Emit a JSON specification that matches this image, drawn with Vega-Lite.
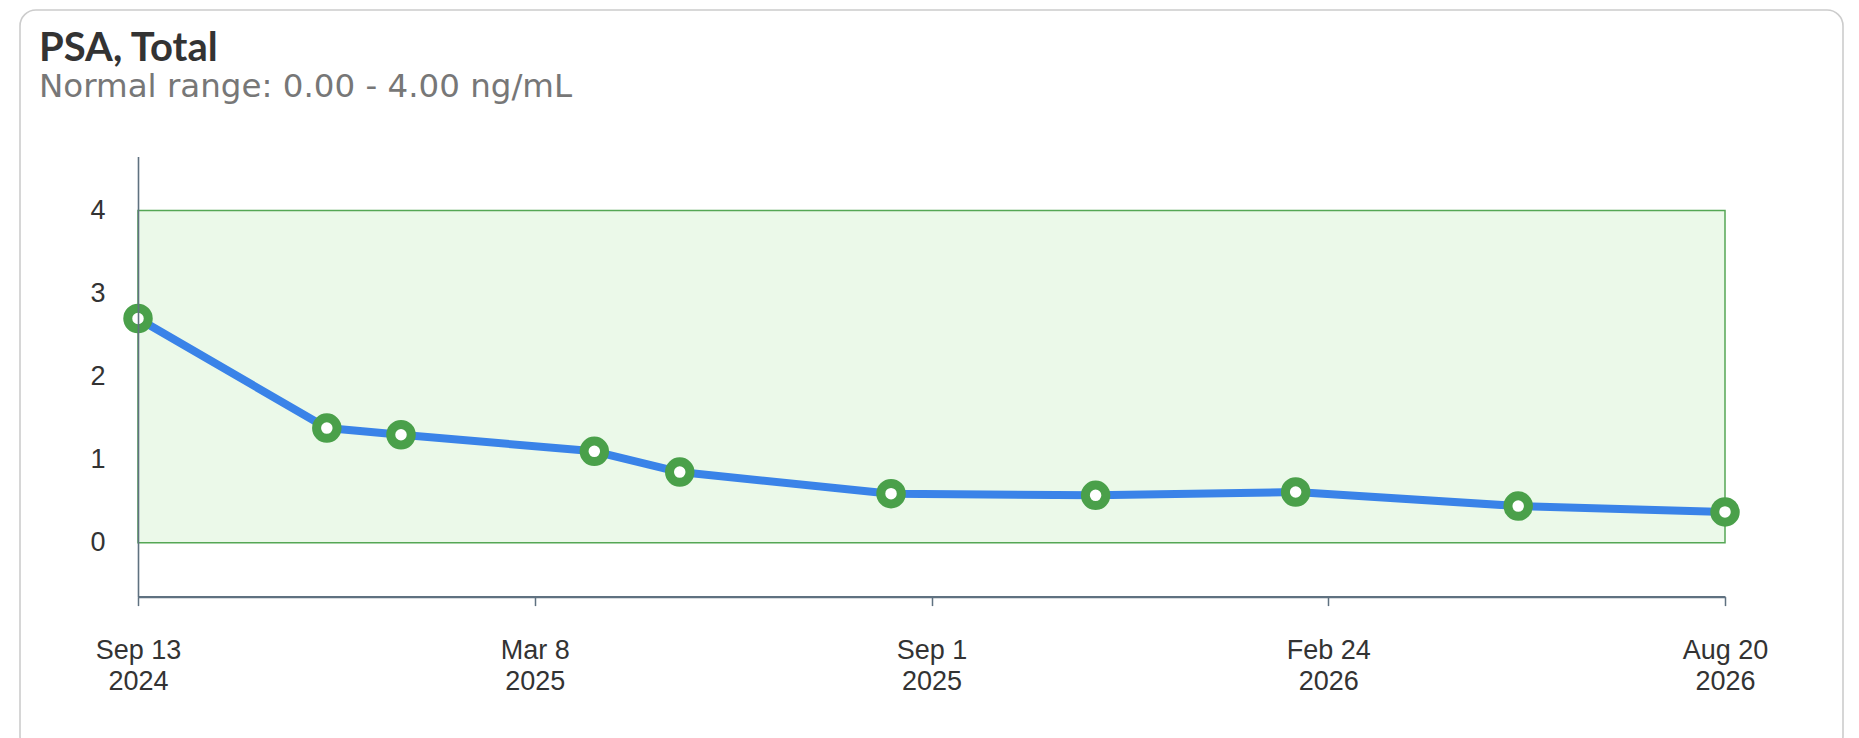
{
  "$schema": "https://vega.github.io/schema/vega-lite/v6.json",
  "description": "PSA, Total - lab result trend with normal range band",
  "autosize": "none",
  "padding": {"left": 20, "top": 10, "right": 16, "bottom": -14},
  "width": 1823,
  "height": 742,
  "background": "white",
  "title": {
    "text": "PSA, Total",
    "subtitle": "Normal range: 0.00 - 4.00 ng/mL",
    "anchor": "start",
    "frame": "group",
    "orient": "top",
    "offset": -93.5,
    "dx": 19,
    "font": "Lato",
    "fontSize": 40,
    "fontWeight": "bold",
    "color": "#333333",
    "subtitleFont": "DejaVu Sans",
    "subtitleFontSize": 32.5,
    "subtitleColor": "#777777",
    "subtitlePadding": 2
  },
  "datasets": {
    "results": [
      {"date": "2024-09-13", "psa": 2.7},
      {"date": "2024-12-06", "psa": 1.38},
      {"date": "2025-01-08", "psa": 1.3},
      {"date": "2025-04-04", "psa": 1.1},
      {"date": "2025-05-12", "psa": 0.85},
      {"date": "2025-08-14", "psa": 0.59},
      {"date": "2025-11-13", "psa": 0.57},
      {"date": "2026-02-10", "psa": 0.61},
      {"date": "2026-05-20", "psa": 0.44},
      {"date": "2026-08-20", "psa": 0.37}
    ],
    "normal": [
      {"date": "2024-09-13", "to": "2026-08-20", "psa": 0, "high": 4}
    ]
  },
  "layer": [
    {
      "data": {"name": "normal"},
      "mark": {"type": "rect", "fill": "#ebf9e9", "stroke": "#55a755", "strokeWidth": 1.5},
      "encoding": {
        "x": {
          "field": "date",
          "type": "temporal",
          "scale": {
            "type": "utc",
            "domain": [
              {"year": 2024, "month": 9, "date": 13, "utc": true},
              {"year": 2026, "month": 8, "date": 20, "utc": true}
            ],
            "range": [118, 1705]
          },
          "axis": {
            "title": null,
            "orient": "bottom",
            "offset": -155.4,
            "grid": false,
            "values": [
              {"year": 2024, "month": 9, "date": 13, "utc": true},
              {"year": 2025, "month": 3, "date": 8, "hours": 12, "utc": true},
              {"year": 2025, "month": 9, "date": 1, "utc": true},
              {"year": 2026, "month": 2, "date": 24, "hours": 12, "utc": true},
              {"year": 2026, "month": 8, "date": 20, "utc": true}
            ],
            "labelExpr": "[utcFormat(datum.value, '%b %-d'), utcFormat(datum.value, '%Y')]",
            "labelFlush": false,
            "labelOverlap": false,
            "labelFont": "Liberation Sans",
            "labelFontSize": 27,
            "labelColor": "#333333",
            "labelLineHeight": 31,
            "labelPadding": 32,
            "tickSize": 9,
            "tickWidth": 1.5,
            "tickColor": "#5f7180",
            "domainColor": "#5f7180",
            "domainWidth": 2.2
          }
        },
        "x2": {"field": "to"},
        "y": {
          "field": "psa",
          "type": "quantitative",
          "scale": {"domain": [-0.65, 4.65], "range": [586.6, 146.6], "nice": false, "zero": false},
          "axis": {
            "title": null,
            "orient": "left",
            "offset": -118,
            "grid": false,
            "values": [0, 1, 2, 3, 4],
            "format": "d",
            "ticks": false,
            "labelPadding": 33,
            "labelFont": "Liberation Sans",
            "labelFontSize": 27,
            "labelColor": "#333333",
            "domainColor": "#5f7180",
            "domainWidth": 1.6,
            "zindex": 1
          }
        },
        "y2": {"field": "high"}
      }
    },
    {
      "data": {"name": "results"},
      "mark": {"type": "line", "color": "#3a83e8", "strokeWidth": 8, "strokeJoin": "round"},
      "encoding": {
        "x": {"field": "date", "type": "temporal"},
        "y": {"field": "psa", "type": "quantitative"}
      }
    },
    {
      "data": {"name": "results"},
      "mark": {"type": "point", "shape": "circle", "filled": false, "fill": "white", "fillOpacity": 1, "stroke": "#4aa04a", "strokeWidth": 9, "opacity": 1, "size": 420},
      "encoding": {
        "x": {"field": "date", "type": "temporal"},
        "y": {"field": "psa", "type": "quantitative"}
      }
    }
  ],
  "config": {
    "view": {"stroke": "#cccccc", "strokeWidth": 1.6, "cornerRadius": 16}
  }
}
